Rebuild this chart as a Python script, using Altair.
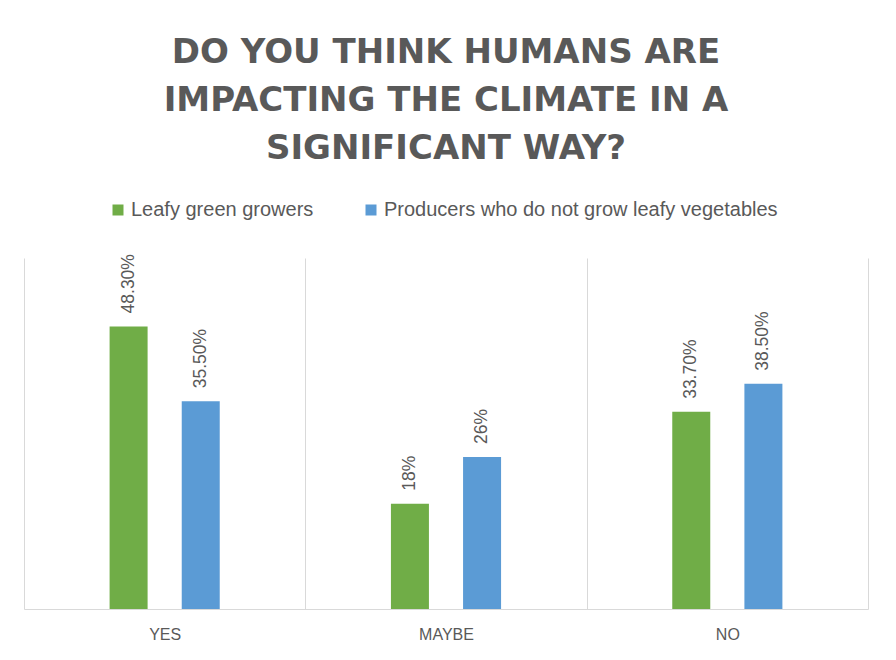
import altair as alt
import pandas as pd

categories = ["YES", "MAYBE", "NO"]
series = ["Leafy green growers", "Producers who do not grow leafy vegetables"]
leafy_values = [48.3, 18.0, 33.7]
other_values = [35.5, 26.0, 38.5]
leafy_labels = ["48.30%", "18%", "33.70%"]
other_labels = ["35.50%", "26%", "38.50%"]
colors = ["#70AD47", "#5B9BD5"]
title_lines = ["DO YOU THINK HUMANS ARE", "IMPACTING THE CLIMATE IN A", "SIGNIFICANT WAY?"]

rows = []
for c, v, l in zip(categories, leafy_values, leafy_labels):
    rows.append({"category": c, "series": series[0], "value": v, "label": l})
for c, v, l in zip(categories, other_values, other_labels):
    rows.append({"category": c, "series": series[1], "value": v, "label": l})
df = pd.DataFrame(rows)

GRID = "#D9D9D9"
TEXT = "#595959"

base = alt.Chart(df).encode(
    x=alt.X(
        "category:N",
        sort=categories,
        scale=alt.Scale(paddingInner=0, paddingOuter=0),
        axis=alt.Axis(
            title=None,
            labelAngle=0,
            tickBand="extent",
            grid=True,
            gridColor=GRID,
            ticks=False,
            domainColor=GRID,
            labelColor=TEXT,
            labelFont="Liberation Sans",
            labelFontSize=16,
            labelPadding=17,
        ),
    ),
    xOffset=alt.XOffset(
        "series:N", sort=series, scale=alt.Scale(paddingInner=0.1, paddingOuter=1)
    ),
    y=alt.Y("value:Q", scale=alt.Scale(domain=[0, 60]), axis=None),
)

bars = base.mark_bar(width=38).encode(
    color=alt.Color(
        "series:N",
        sort=series,
        scale=alt.Scale(domain=series, range=colors),
        legend=alt.Legend(
            title=None,
            orient="none",
            direction="horizontal",
            legendX=84,
            legendY=-58,
            symbolType="square",
            symbolSize=121,
            symbolStrokeWidth=0,
            labelFont="Liberation Sans",
            labelFontSize=20,
            labelColor=TEXT,
            labelLimit=600,
            columnPadding=47,
            labelOffset=3,
        ),
    )
)

text = base.mark_text(
    angle=270,
    align="left",
    baseline="middle",
    dx=13,
    font="Liberation Sans",
    fontSize=17.5,
    color=TEXT,
).encode(text="label:N")

chart = (
    alt.layer(bars, text)
    .properties(
        width=844,
        height=351,
        padding={"left": 24, "right": 28, "top": 36, "bottom": 10},
        title=alt.TitleParams(
            text=title_lines,
            font="DejaVu Sans",
            fontSize=34,
            fontWeight="bold",
            color=TEXT,
            lineHeight=48,
            anchor="middle",
            offset=34,
        ),
    )
    .configure_view(stroke=None)
)

chart.save("out.html", embed_options={"renderer": "svg", "actions": False})
